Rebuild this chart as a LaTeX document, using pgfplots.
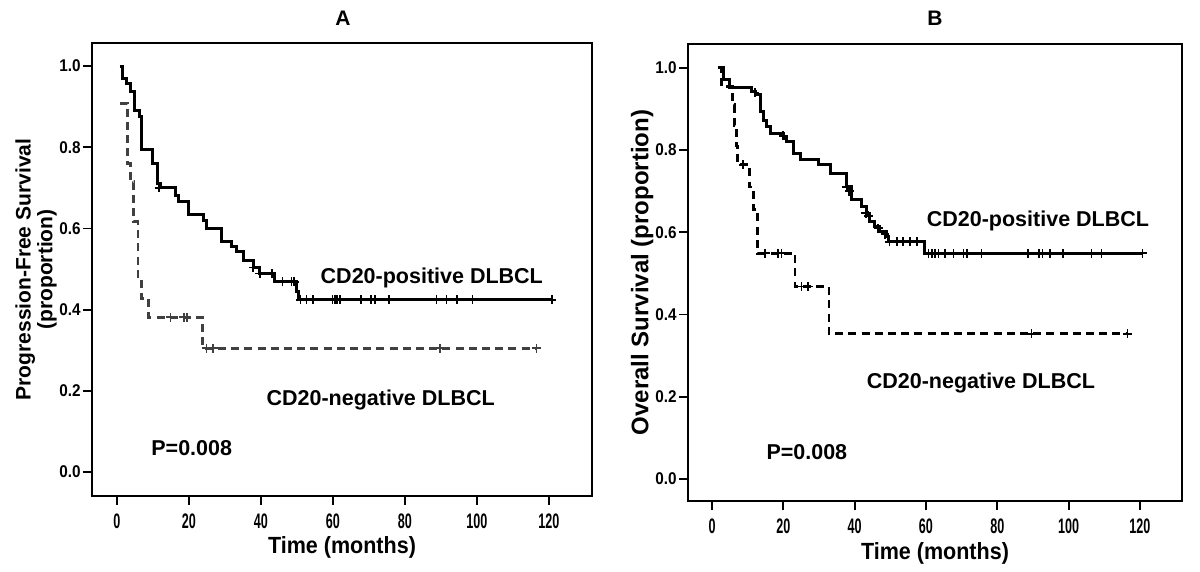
\documentclass[border=0pt]{standalone}
\usepackage{fontspec}
\setmainfont{Liberation Sans}
\newfontfamily\xtickfont[FakeStretch=0.6]{Liberation Sans}
\newfontfamily\ytickfont[FakeStretch=0.9]{Liberation Sans}
\newfontfamily\labfont[FakeStretch=0.92]{Liberation Sans}
\usepackage{pgfplots}
\pgfplotsset{compat=1.18}

\pgfplotsset{
  km/.style={
    scale only axis,
    axis line style={line width=1.2pt},
    xtick={0,20,...,120},
    ytick={0,0.2,0.4,0.6,0.8,1.0},
    xtick pos=bottom, ytick pos=left,
    tick align=outside,
    major tick length=4.5pt,
    every tick/.style={line width=0.9pt, black},
    /pgf/number format/assume math mode=true,
    y tick label style={/pgf/number format/fixed, /pgf/number format/fixed zerofill,
      /pgf/number format/precision=1, font=\fontsize{8.5}{9}\ytickfont\bfseries, inner sep=1pt},
    x tick label style={font=\fontsize{10.5}{11}\xtickfont\bfseries, yshift=-1pt},
    xlabel style={font=\fontsize{11.7}{12}\labfont\bfseries, anchor=center},
    ylabel style={anchor=center, rotate=0, align=center},
    clip=false,
  },
  surv/.style={const plot, line width=1.5pt, black},
  survneg/.style={const plot, line width=1.4pt, dash pattern=on 4pt off 2.6pt},
  cens/.style={only marks, mark=+, mark size=2.2pt, line width=0.9pt},
}

\begin{document}
\begin{tikzpicture}
\useasboundingbox (0,0) rectangle (600pt,286pt);

\node[font=\fontsize{10.5}{11}\selectfont\bfseries] at (171.5pt,277pt) {A};
\node[font=\fontsize{10.5}{11}\selectfont\bfseries] at (467.5pt,277pt) {B};

% ---------------- A ----------------
\begin{axis}[km,
  at={(46pt,38pt)}, anchor=south west,
  width=250pt, height=226.5pt,
  xmin=-6.9, xmax=132, ymin=-0.059, ymax=1.0567,
  xlabel={Time (months)}, xlabel style={at={(axis description cs:0.5,-0.113)}},
  ylabel={Progression-Free Survival\\(proportion)},
  ylabel style={at={(axis description cs:-0.112,0.5)}, font=\fontsize{10.5}{9.5}\selectfont\bfseries},
]
% CD20-positive
\addplot[surv] coordinates {
 (0.8,1.0) (1.7,0.97) (2.7,0.957) (3.8,0.937) (5.0,0.89) (6.2,0.875)
 (6.9,0.795) (9.9,0.76) (11.3,0.71) (12.0,0.70) (16.3,0.68) (17.2,0.666)
 (20.0,0.635) (24.0,0.62) (24.9,0.60) (29.1,0.567) (31.8,0.555) (33.2,0.543)
 (35.1,0.522) (37.9,0.504) (39.7,0.489) (43.7,0.469) (49.9,0.445) (50.6,0.424)
 (120.9,0.424)
};
\addplot[cens] coordinates {
 (11.7,0.70) (37.9,0.504) (39.7,0.489) (43.0,0.489) (46.0,0.469) (48.5,0.469)
 (49.3,0.469) (51.0,0.424) (52.7,0.424) (54.5,0.424) (59.9,0.424) (60.6,0.424)
 (61.2,0.424) (61.9,0.424) (67.8,0.424) (70.7,0.424) (71.7,0.424) (75.6,0.424)
 (88.8,0.424) (91.6,0.424) (94.6,0.424) (98.8,0.424) (120.9,0.424)
};
% CD20-negative
\addplot[survneg, black!75] coordinates {
 (0.8,0.908) (3.0,0.76) (3.8,0.715) (4.7,0.617) (5.9,0.481) (6.8,0.428)
 (8.9,0.381) (23.8,0.305) (116.6,0.305)
};
\addplot[cens, black!75] coordinates {
 (14.9,0.381) (18.6,0.381) (19.4,0.381) (24.9,0.305) (26.8,0.305)
 (89.7,0.305) (116.6,0.305)
};
\node[font=\fontsize{10.75}{11}\selectfont\bfseries] at (axis cs:87.5,0.478) {CD20-positive DLBCL};
\node[font=\fontsize{10.75}{11}\selectfont\bfseries] at (axis cs:73.3,0.177) {CD20-negative DLBCL};
\node[font=\fontsize{10.75}{11}\selectfont\bfseries] at (axis cs:20.8,0.059) {P=0.008};
\end{axis}

% ---------------- B ----------------
\begin{axis}[km,
  at={(344pt,35.5pt)}, anchor=south west,
  width=247pt, height=228.5pt,
  xmin=-6.73, xmax=131.8, ymin=-0.0535, ymax=1.058,
  xlabel={Time (months)}, xlabel style={at={(axis description cs:0.5,-0.114)}},
  ylabel={Overall Survival (proportion)},
  ylabel style={at={(axis description cs:-0.093,0.5)}, font=\fontsize{12}{12}\selectfont\bfseries},
]
% CD20-positive
\addplot[surv] coordinates {
 (1.8,1.0) (3.2,0.971) (5.0,0.953) (11.1,0.942) (12.1,0.934) (13.5,0.894)
 (14.4,0.873) (15.3,0.857) (16.3,0.841) (20.0,0.829) (20.9,0.821) (22.8,0.792)
 (24.7,0.776) (29.8,0.764) (33.1,0.744) (37.8,0.711) (39.2,0.679) (42.0,0.663)
 (43.4,0.646) (44.3,0.626) (45.7,0.614) (47.1,0.602) (49.0,0.59) (49.4,0.577)
 (59.7,0.549) (120.7,0.549)
};
\addplot[cens] coordinates {
 (12.0,0.94) (20.0,0.835) (37.8,0.711) (38.5,0.70) (43.1,0.646) (43.9,0.64)
 (46.6,0.61) (48.5,0.595) (49.8,0.577) (51.8,0.577) (53.6,0.577) (55.5,0.577)
 (57.4,0.577) (60.7,0.549) (61.6,0.549) (62.5,0.549) (63.5,0.549) (65.3,0.549)
 (67.7,0.549) (70.5,0.549) (71.4,0.549) (75.6,0.549) (88.7,0.549) (91.7,0.549)
 (92.7,0.549) (94.8,0.549) (98.5,0.549) (106.4,0.549) (109.2,0.549) (120.7,0.549)
};
% CD20-negative
\addplot[survneg, black] coordinates {
 (1.8,1.0) (2.7,0.955) (5.8,0.91) (6.3,0.86) (6.8,0.81) (7.2,0.764)
 (10.6,0.71) (11.6,0.655) (12.8,0.549) (23.3,0.468) (32.8,0.353) (116.5,0.353)
};
\addplot[cens, black] coordinates {
 (8.8,0.764) (14.9,0.549) (18.6,0.549) (19.5,0.549) (25.1,0.468) (27.0,0.468)
 (89.6,0.353) (116.5,0.353)
};
\node[font=\fontsize{10.75}{11}\selectfont\bfseries] at (axis cs:91.4,0.628) {CD20-positive DLBCL};
\node[font=\fontsize{10.75}{11}\selectfont\bfseries] at (axis cs:75.4,0.234) {CD20-negative DLBCL};
\node[font=\fontsize{10.75}{11}\selectfont\bfseries] at (axis cs:26.6,0.066) {P=0.008};
\end{axis}
\end{tikzpicture}
\end{document}
